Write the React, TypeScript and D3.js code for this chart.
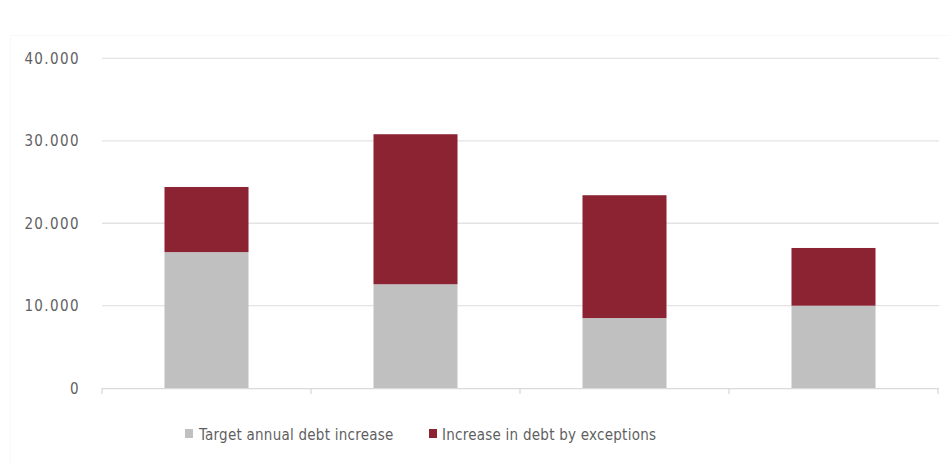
import React, { useEffect, useRef } from "react";
import * as d3 from "d3";

const categories = ["A", "B", "C", "D"];
const targetIncrease = [16500, 12600, 8500, 10000];
const exceptionIncrease = [7900, 18200, 14900, 7000];
const yTicks = [0, 10000, 20000, 30000, 40000];
const seriesNames = ["Target annual debt increase", "Increase in debt by exceptions"];
const seriesColors = ["#c0c0c0", "#8b2332"];

export default function App() {
  const ref = useRef<SVGSVGElement>(null);
  useEffect(() => {
    const svg = d3.select(ref.current);
    svg.selectAll("*").remove();
    const W = 950, H = 465;
    const left = 102, right = 938, top = 58.4, bottom = 388.1;
    const x = d3.scaleBand().domain(categories).range([left, right]).paddingInner(0.598).paddingOuter(0.299);
    const y = d3.scaleLinear().domain([0, 40000]).range([bottom, top]);
    const font = "'DejaVu Sans Condensed', 'DejaVu Sans', sans-serif";

    svg.append("rect").attr("x", 10.5).attr("y", 35.5).attr("width", W - 10).attr("height", H - 35)
      .attr("fill", "white").attr("stroke", "#f9f9f9");

    // gridlines
    svg.append("g").selectAll("line").data(yTicks.filter(t => t > 0)).join("line")
      .attr("x1", left).attr("x2", right + 1)
      .attr("y1", d => y(d)).attr("y2", d => y(d))
      .attr("stroke", "#e3e3e3").attr("stroke-width", 1.3);

    // y labels
    svg.append("g").selectAll("text").data(yTicks).join("text")
      .attr("x", 80).attr("y", d => y(d)).attr("dy", "0.36em")
      .attr("text-anchor", "end")
      .attr("font-family", font).attr("font-size", 15).attr("letter-spacing", 1.4)
      .attr("fill", "#5f5f5f")
      .text(d => d === 0 ? "0" : d3.format(",")(d).replace(/,/g, "."));

    const stack = d3.stack<any>().keys(["t", "e"]);
    const rows = categories.map((c, i) => ({ c, t: targetIncrease[i], e: exceptionIncrease[i] }));
    const series = stack(rows);
    series.forEach((s, si) => {
      svg.append("g").selectAll("rect").data(s).join("rect")
        .attr("x", d => x((d.data as any).c)!)
        .attr("width", x.bandwidth())
        .attr("y", d => y(d[1]))
        .attr("height", d => y(d[0]) - y(d[1]))
        .attr("fill", seriesColors[si]);
    });

    // axis
    svg.append("line").attr("x1", left).attr("x2", right + 1).attr("y1", bottom + 0.5).attr("y2", bottom + 0.5)
      .attr("stroke", "#d9d9d9").attr("stroke-width", 1.3);
    const step = x.step();
    const tickXs = categories.map((c, i) => left + i * step).concat([right]);
    svg.append("g").selectAll("line").data(tickXs).join("line")
      .attr("x1", d => d).attr("x2", d => d).attr("y1", bottom).attr("y2", bottom + 6)
      .attr("stroke", "#d9d9d9").attr("stroke-width", 1.3);

    // legend
    const lg = svg.append("g");
    const items = [{ x: 185, tx: 199 }, { x: 429, tx: 442 }];
    items.forEach((it, i) => {
      lg.append("rect").attr("x", it.x).attr("y", 429).attr("width", 8).attr("height", 9).attr("fill", seriesColors[i]);
      lg.append("text").attr("x", it.tx).attr("y", 440)
        .attr("font-family", font).attr("font-size", 15).attr("letter-spacing", 0.25)
        .attr("fill", "#5f5f5f").text(seriesNames[i]);
    });
  }, []);
  return (
    <svg ref={ref} width={950} height={465} style={{ position: "absolute", left: 0, top: 0, background: "white" }} />
  );
}
